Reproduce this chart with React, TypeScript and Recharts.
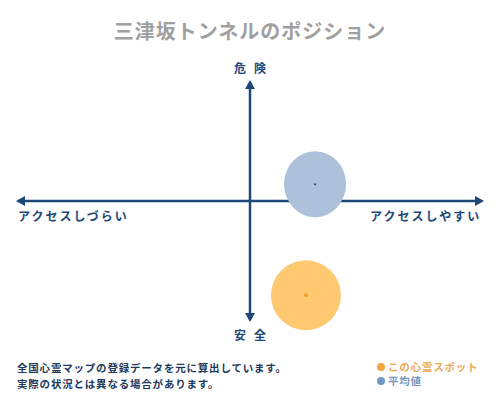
import React from 'react';
import { ScatterChart, Scatter, XAxis, YAxis, ReferenceLine, ReferenceDot } from 'recharts';

// position on the access (x) / danger (y) plane, range -1..1
const spotPoint = [{ x: 0.239, y: -0.779 }];
const averagePoint = [{ x: 0.278, y: 0.139 }];

const titleText = '三津坂トンネルのポジション';
const axisLabels = { top: '危険', bottom: '安全', left: 'アクセスしづらい', right: 'アクセスしやすい' };
const noteLines = ['全国心霊マップの登録データを元に算出しています。', '実際の状況とは異なる場合があります。'];
const legendItems = [
    { name: 'この心霊スポット', color: '#f2a541', text: '#eaa854' },
    { name: '平均値', color: '#6f98c2', text: '#7597bf' },
];

const NAVY = '#1d4877';
const FONT = '"Noto Sans CJK JP", "Noto Sans", sans-serif';

const arrow = (dir: 'up' | 'down' | 'left' | 'right') => (props: any) => {
    const { cx, cy } = props;
    const s = 5;
    let pts = '';
    if (dir === 'up') pts = `${cx},${cy} ${cx - s},${cy + 9} ${cx + s},${cy + 9}`;
    if (dir === 'down') pts = `${cx},${cy} ${cx - s},${cy - 9} ${cx + s},${cy - 9}`;
    if (dir === 'left') pts = `${cx},${cy} ${cx + 9},${cy - s} ${cx + 9},${cy + s}`;
    if (dir === 'right') pts = `${cx},${cy} ${cx - 9},${cy - s} ${cx - 9},${cy + s}`;
    return <polygon points={pts} fill={NAVY} />;
};

const bubble = (fill: string, dot: string, rx: number, ry: number, dotR: number) => (props: any) => {
    const { cx, cy } = props;
    return (
        <g>
            <ellipse cx={cx} cy={cy} rx={rx} ry={ry} fill={fill} />
            <circle cx={cx} cy={cy} r={dotR} fill={dot} />
        </g>
    );
};

export default function App() {
    return (
        <div style={{ position: 'absolute', left: 0, top: 0, width: 500, height: 400, background: '#fff', fontFamily: FONT }}>
            <div style={{ position: 'absolute', top: 16, left: 0, width: 500, textAlign: 'center', fontSize: 20, fontWeight: 700, color: '#a0a0a0', letterSpacing: 1 }}>
                {titleText}
            </div>

            <ScatterChart width={500} height={400} margin={{ top: 80, bottom: 78, left: 16, right: 16 }}>
                <XAxis type="number" dataKey="x" domain={[-1, 1]} hide />
                <YAxis type="number" dataKey="y" domain={[-1, 1]} hide />
                <Scatter data={averagePoint} isAnimationActive={false} shape={bubble('#adc2da', '#1d3550', 31, 33, 1)} />
                <Scatter data={spotPoint} isAnimationActive={false} shape={bubble('#fec971', '#f5a020', 35, 35, 2)} />
                <ReferenceLine segment={[{ x: -0.99, y: 0 }, { x: 0.99, y: 0 }]} stroke={NAVY} strokeWidth={2.5} />
                <ReferenceLine segment={[{ x: 0, y: -0.98 }, { x: 0, y: 0.98 }]} stroke={NAVY} strokeWidth={2.5} />
                <ReferenceDot x={0} y={1} shape={arrow('up')} />
                <ReferenceDot x={0} y={-1} shape={arrow('down')} />
                <ReferenceDot x={-1} y={0} shape={arrow('left')} />
                <ReferenceDot x={1} y={0} shape={arrow('right')} />
            </ScatterChart>

            <div style={{ position: 'absolute', top: 59, left: 0, width: 508, textAlign: 'center', fontSize: 12, fontWeight: 700, color: NAVY, letterSpacing: 8 }}>
                {axisLabels.top}
            </div>
            <div style={{ position: 'absolute', top: 326, left: 0, width: 508, textAlign: 'center', fontSize: 12, fontWeight: 700, color: NAVY, letterSpacing: 8 }}>
                {axisLabels.bottom}
            </div>
            <div style={{ position: 'absolute', top: 207, left: 18, fontSize: 12, fontWeight: 700, color: NAVY, letterSpacing: 2 }}>
                {axisLabels.left}
            </div>
            <div style={{ position: 'absolute', top: 207, left: 370, fontSize: 12, fontWeight: 700, color: NAVY, letterSpacing: 2 }}>
                {axisLabels.right}
            </div>

            <div style={{ position: 'absolute', top: 360, left: 17, fontSize: 10.5, fontWeight: 700, color: '#1d3a5c', letterSpacing: 0.8, lineHeight: '16px' }}>
                {noteLines.map((t) => <div key={t}>{t}</div>)}
            </div>

            <div style={{ position: 'absolute', top: 360, left: 377, fontSize: 10.5, fontWeight: 700, lineHeight: '14px', letterSpacing: 0.8 }}>
                {legendItems.map((it) => (
                    <div key={it.name} style={{ display: 'flex', alignItems: 'center', color: it.text }}>
                        <span style={{ display: 'inline-block', width: 8, height: 8, borderRadius: 4, background: it.color, marginRight: 3 }} />
                        {it.name}
                    </div>
                ))}
            </div>
        </div>
    );
}
